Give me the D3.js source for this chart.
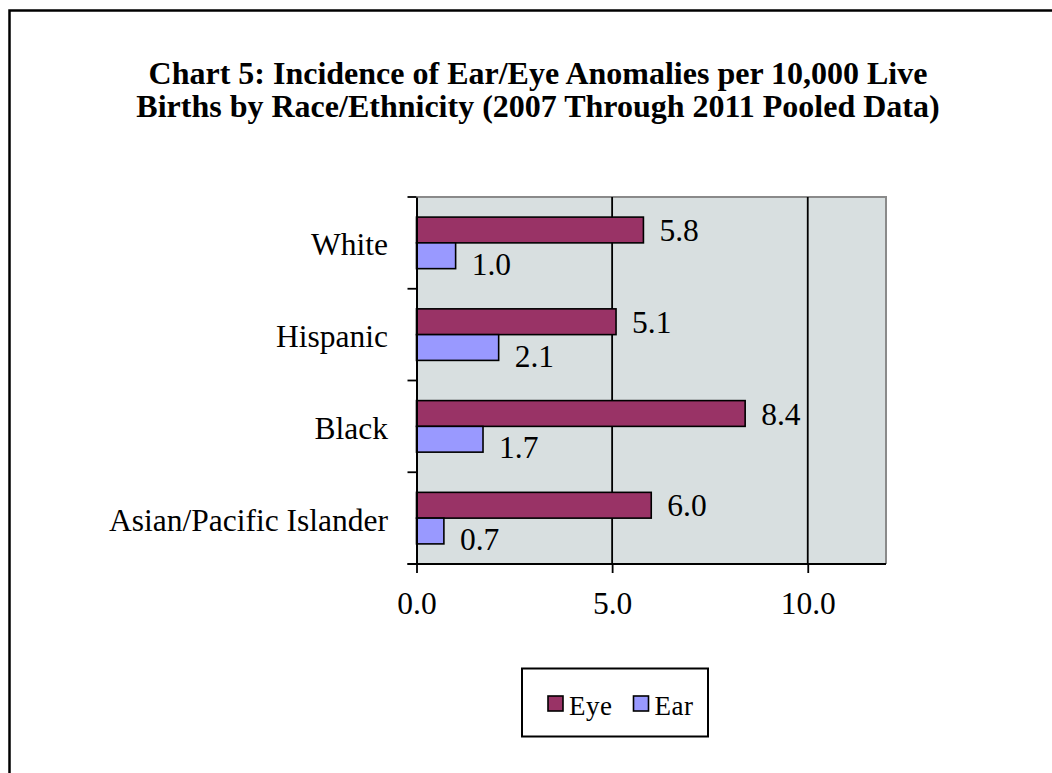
<!DOCTYPE html>
<html>
<head>
<meta charset="utf-8">
<script src="https://cdn.jsdelivr.net/npm/d3@7"></script>
<style>
  html, body { margin: 0; padding: 0; background: #ffffff; }
  svg { display: block; }
  text { font-family: "Liberation Serif", "Times New Roman", serif; fill: #000; }
</style>
</head>
<body>
<svg id="chart" width="1052" height="773"></svg>
<script>
// ---- data ----
const categories = ["White", "Hispanic", "Black", "Asian/Pacific Islander"];
const seriesNames = ["Eye", "Ear"];
const eyeValues = [5.8, 5.1, 8.4, 6.0];
const earValues = [1.0, 2.1, 1.7, 0.7];
const xTickValues = [0, 5, 10];
const titleLines = [
  "Chart 5: Incidence of Ear/Eye Anomalies per 10,000 Live",
  "Births by Race/Ethnicity (2007 Through 2011 Pooled Data)"
];

// ---- styles / layout ----
const colors = { Eye: "#993366", Ear: "#9999FF" };
const plot = { left: 416.5, top: 197, right: 886, bottom: 564 };
const labelFont = 31.5;

const rows = categories.map((c, i) => ({ cat: c, Eye: eyeValues[i], Ear: earValues[i] }));

const svg = d3.select("#chart");

// outer border (extends past right/bottom edges)
svg.append("rect")
  .attr("x", 9.5).attr("y", 10.5)
  .attr("width", 1100).attr("height", 800)
  .attr("fill", "#fff").attr("stroke", "#000").attr("stroke-width", 2.5);

// title (two separate lines)
svg.append("g").selectAll("text").data(titleLines).join("text")
  .attr("x", 538).attr("y", (d, i) => 84 + i * 33)
  .attr("text-anchor", "middle")
  .style("font-weight", "bold").style("font-size", "32px")
  .text(d => d);

// scales
const x = d3.scaleLinear().domain([0, 12]).range([plot.left, plot.right]);
const y0 = d3.scaleBand().domain(categories).range([plot.top, plot.bottom]).padding(0);
const y1 = d3.scaleBand().domain(seriesNames).range([0, y0.bandwidth()])
  .paddingInner(0).paddingOuter(0.78);

// plot background
svg.append("rect")
  .attr("x", plot.left).attr("y", plot.top)
  .attr("width", plot.right - plot.left).attr("height", plot.bottom - plot.top)
  .attr("fill", "#d8dfe0");

// plot top/right border (grey)
svg.append("path")
  .attr("d", `M${plot.left},${plot.top}H${plot.right}V${plot.bottom}`)
  .attr("fill", "none").attr("stroke", "#8a8a8a").attr("stroke-width", 2);

// gridlines
svg.append("g").selectAll("line")
  .data(xTickValues.filter(v => v > 0)).join("line")
  .attr("x1", d => x(d)).attr("x2", d => x(d))
  .attr("y1", plot.top).attr("y2", plot.bottom)
  .attr("stroke", "#000").attr("stroke-width", 1.8);

// bars
const groups = svg.append("g").selectAll("g")
  .data(rows).join("g")
  .attr("transform", d => `translate(0,${y0(d.cat)})`);

groups.selectAll("rect")
  .data(d => seriesNames.map(s => ({ s, v: d[s] })))
  .join("rect")
  .attr("x", x(0))
  .attr("y", d => y1(d.s))
  .attr("width", d => x(d.v) - x(0))
  .attr("height", y1.bandwidth())
  .attr("fill", d => colors[d.s])
  .attr("stroke", "#000").attr("stroke-width", 1.6);

// data labels
groups.selectAll("text")
  .data(d => seriesNames.map(s => ({ s, v: d[s] })))
  .join("text")
  .attr("x", d => x(d.v) + 16)
  .attr("y", d => y1(d.s) + y1.bandwidth() / 2 + (d.s === "Ear" ? 8 : 0))
  .attr("dy", "0.35em")
  .style("font-size", labelFont + "px")
  .text(d => d3.format(".1f")(d.v));

// x axis
const xAxis = svg.append("g")
  .attr("transform", `translate(0,${plot.bottom})`)
  .call(d3.axisBottom(x).tickValues(xTickValues).tickSize(9).tickPadding(19)
    .tickFormat(d3.format(".1f")));
xAxis.select(".domain").attr("stroke", "#000").attr("stroke-width", 2)
  .attr("d", `M${plot.left - 9},0H${plot.right}`);
xAxis.selectAll(".tick line").attr("stroke", "#000").attr("stroke-width", 1.8);
xAxis.selectAll(".tick text").style("font-size", labelFont + "px")
  .style("font-family", '"Liberation Serif", "Times New Roman", serif');

// y axis
const yAxis = svg.append("g")
  .attr("transform", `translate(${plot.left},0)`)
  .call(d3.axisLeft(y0).tickSize(0).tickPadding(28.5));
yAxis.select(".domain").attr("stroke", "#000").attr("stroke-width", 2);
yAxis.selectAll(".tick text").style("font-size", labelFont + "px")
  .style("font-family", '"Liberation Serif", "Times New Roman", serif')
  .attr("dy", "0.4em");

// y tick marks at category boundaries
const boundaries = categories.map(c => y0(c)).concat([y0.range()[1]]);
svg.append("g").selectAll("line")
  .data(boundaries).join("line")
  .attr("x1", plot.left - 9).attr("x2", plot.left)
  .attr("y1", d => d).attr("y2", d => d)
  .attr("stroke", "#000").attr("stroke-width", 1.8);

// legend
const legend = svg.append("g");
legend.append("rect")
  .attr("x", 522).attr("y", 668.5).attr("width", 186).attr("height", 68)
  .attr("fill", "#fff").attr("stroke", "#000").attr("stroke-width", 2);
const legendX = { Eye: 548, Ear: 633.5 };
const li = legend.selectAll("g.item").data(seriesNames).join("g").attr("class", "item")
  .attr("transform", d => `translate(${legendX[d]},696)`);
li.append("rect").attr("width", 15).attr("height", 15)
  .attr("fill", d => colors[d]).attr("stroke", "#000").attr("stroke-width", 1.6);
li.append("text").attr("x", 21).attr("y", 19)
  .style("font-size", "27px").style("letter-spacing", "0.5px")
  .text(d => d);
</script>
</body>
</html>
